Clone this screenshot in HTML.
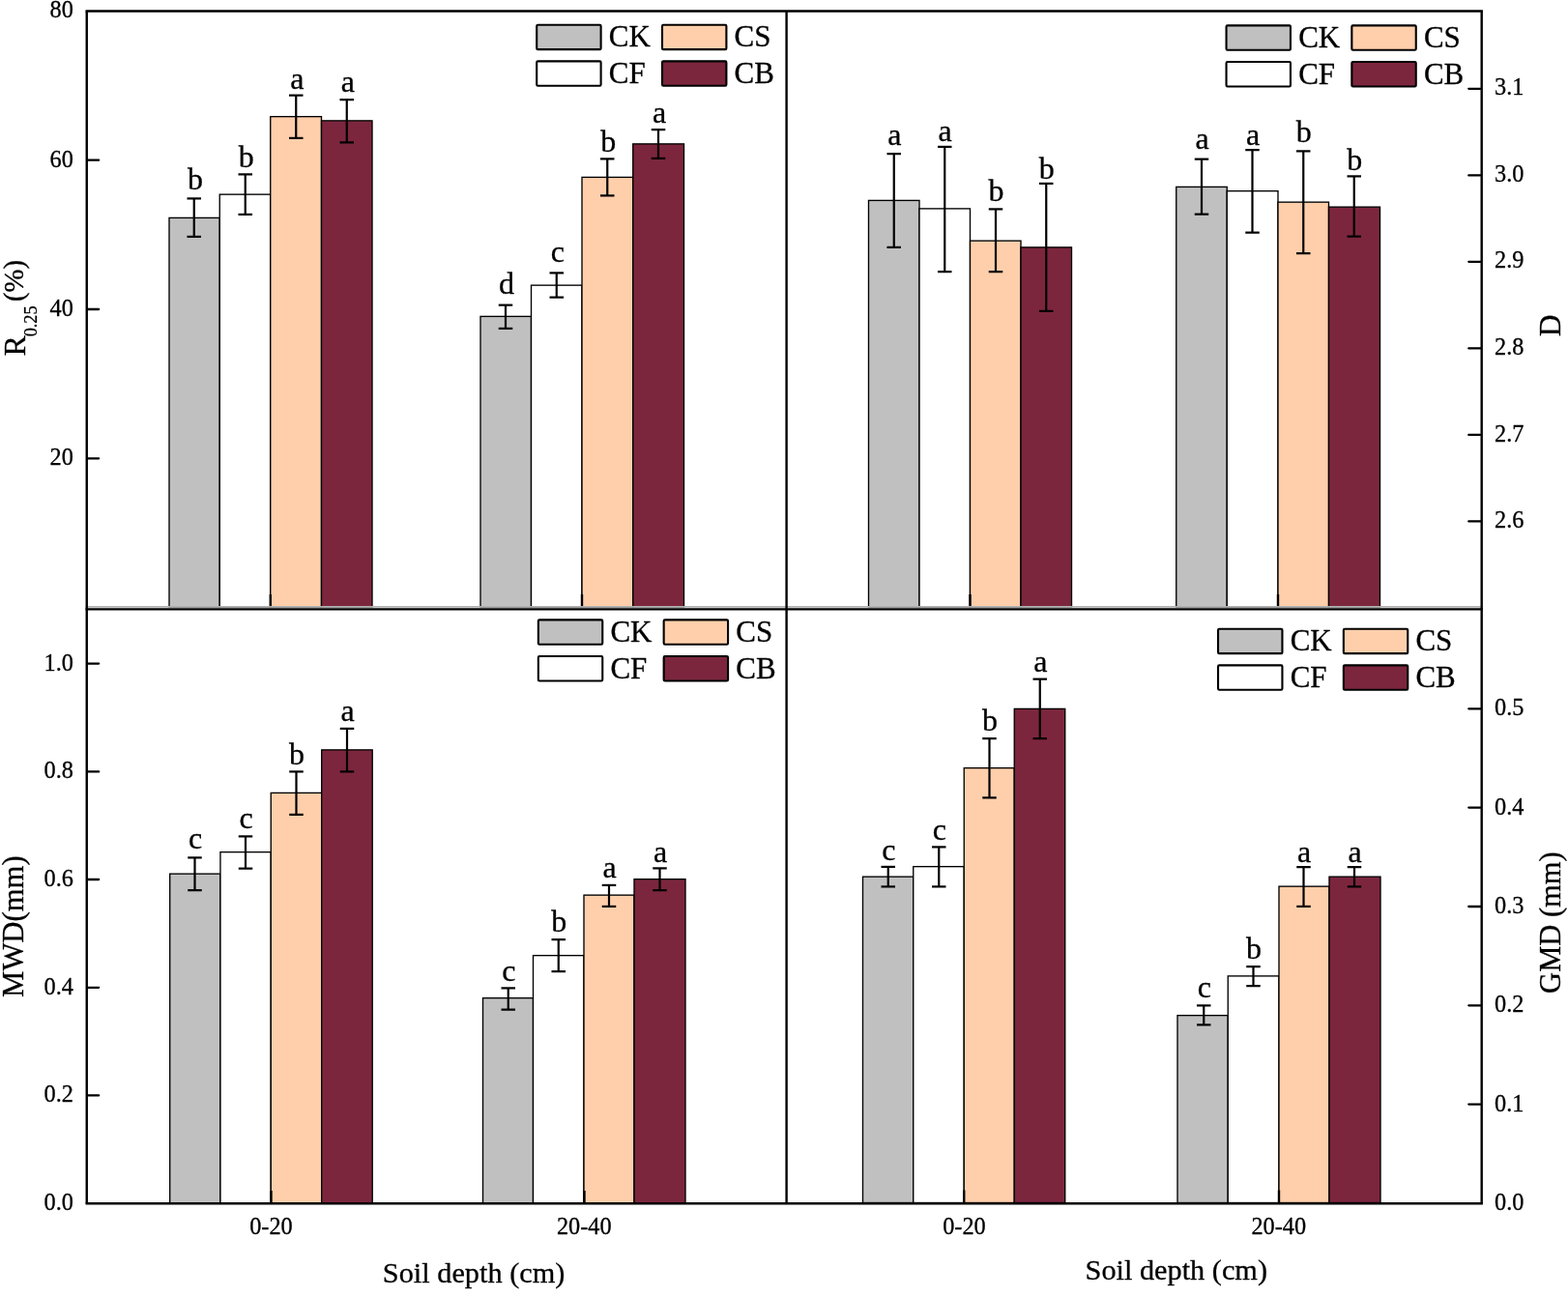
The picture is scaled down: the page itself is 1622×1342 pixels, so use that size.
<!DOCTYPE html>
<html lang="en">
<head>
<meta charset="utf-8">
<title>Soil aggregate stability by soil depth</title>
<style>
html,body{margin:0;padding:0;background:#fff;}
body{width:1622px;height:1342px;overflow:hidden;}
svg{display:block;}
svg text{font-family:"Liberation Serif", "Times New Roman", Times, serif;fill:#000;stroke:#000;stroke-width:0.3px;stroke-linejoin:round;}
</style>
</head>
<body>
<svg width="1622" height="1342" viewBox="0 0 1622 1342">
<rect x="0" y="0" width="1622" height="1342" fill="#ffffff"/>
<g id="TL">
<rect x="175" y="225.4" width="52.25" height="402.6" fill="#c0c0c0" stroke="#000" stroke-width="1.35"/>
<rect x="227.25" y="201.15" width="52.5" height="426.85" fill="#ffffff" stroke="#000" stroke-width="1.35"/>
<rect x="279.75" y="120.65" width="52.75" height="507.35" fill="#ffcfab" stroke="#000" stroke-width="1.35"/>
<rect x="332.5" y="124.9" width="52.5" height="503.1" fill="#7c263e" stroke="#000" stroke-width="1.35"/>
<rect x="497" y="327.4" width="52.5" height="300.6" fill="#c0c0c0" stroke="#000" stroke-width="1.35"/>
<rect x="549.5" y="295.15" width="52.5" height="332.85" fill="#ffffff" stroke="#000" stroke-width="1.35"/>
<rect x="602" y="183.4" width="52.75" height="444.6" fill="#ffcfab" stroke="#000" stroke-width="1.35"/>
<rect x="654.75" y="148.9" width="52.75" height="479.1" fill="#7c263e" stroke="#000" stroke-width="1.35"/>
<line x1="279.75" y1="615" x2="279.75" y2="628" stroke="#000" stroke-width="2.4" stroke-linecap="butt"/>
<line x1="602" y1="615" x2="602" y2="628" stroke="#000" stroke-width="2.4" stroke-linecap="butt"/>
<line x1="200.75" y1="205.4" x2="200.75" y2="244.9" stroke="#000" stroke-width="2.2" stroke-linecap="butt"/>
<line x1="193.5" y1="205.4" x2="208" y2="205.4" stroke="#000" stroke-width="2.2" stroke-linecap="butt"/>
<line x1="193.5" y1="244.9" x2="208" y2="244.9" stroke="#000" stroke-width="2.2" stroke-linecap="butt"/>
<line x1="253.75" y1="180.4" x2="253.75" y2="221.9" stroke="#000" stroke-width="2.2" stroke-linecap="butt"/>
<line x1="246.5" y1="180.4" x2="261" y2="180.4" stroke="#000" stroke-width="2.2" stroke-linecap="butt"/>
<line x1="246.5" y1="221.9" x2="261" y2="221.9" stroke="#000" stroke-width="2.2" stroke-linecap="butt"/>
<line x1="306.25" y1="98.65" x2="306.25" y2="142.9" stroke="#000" stroke-width="2.2" stroke-linecap="butt"/>
<line x1="299" y1="98.65" x2="313.5" y2="98.65" stroke="#000" stroke-width="2.2" stroke-linecap="butt"/>
<line x1="299" y1="142.9" x2="313.5" y2="142.9" stroke="#000" stroke-width="2.2" stroke-linecap="butt"/>
<line x1="358.75" y1="103.15" x2="358.75" y2="147.4" stroke="#000" stroke-width="2.2" stroke-linecap="butt"/>
<line x1="351.5" y1="103.15" x2="366" y2="103.15" stroke="#000" stroke-width="2.2" stroke-linecap="butt"/>
<line x1="351.5" y1="147.4" x2="366" y2="147.4" stroke="#000" stroke-width="2.2" stroke-linecap="butt"/>
<text x="202" y="195.55" font-size="32" text-anchor="middle">b</text>
<text x="254.75" y="172.55" font-size="32" text-anchor="middle">b</text>
<text x="307.25" y="91.8" font-size="32" text-anchor="middle">a</text>
<text x="359.75" y="94.8" font-size="32" text-anchor="middle">a</text>
<line x1="523" y1="315.65" x2="523" y2="339.9" stroke="#000" stroke-width="2.2" stroke-linecap="butt"/>
<line x1="515.75" y1="315.65" x2="530.25" y2="315.65" stroke="#000" stroke-width="2.2" stroke-linecap="butt"/>
<line x1="515.75" y1="339.9" x2="530.25" y2="339.9" stroke="#000" stroke-width="2.2" stroke-linecap="butt"/>
<line x1="575.75" y1="282.4" x2="575.75" y2="307.65" stroke="#000" stroke-width="2.2" stroke-linecap="butt"/>
<line x1="568.5" y1="282.4" x2="583" y2="282.4" stroke="#000" stroke-width="2.2" stroke-linecap="butt"/>
<line x1="568.5" y1="307.65" x2="583" y2="307.65" stroke="#000" stroke-width="2.2" stroke-linecap="butt"/>
<line x1="628.25" y1="164.4" x2="628.25" y2="202.4" stroke="#000" stroke-width="2.2" stroke-linecap="butt"/>
<line x1="621" y1="164.4" x2="635.5" y2="164.4" stroke="#000" stroke-width="2.2" stroke-linecap="butt"/>
<line x1="621" y1="202.4" x2="635.5" y2="202.4" stroke="#000" stroke-width="2.2" stroke-linecap="butt"/>
<line x1="681" y1="134.15" x2="681" y2="163.9" stroke="#000" stroke-width="2.2" stroke-linecap="butt"/>
<line x1="673.75" y1="134.15" x2="688.25" y2="134.15" stroke="#000" stroke-width="2.2" stroke-linecap="butt"/>
<line x1="673.75" y1="163.9" x2="688.25" y2="163.9" stroke="#000" stroke-width="2.2" stroke-linecap="butt"/>
<text x="524" y="303.8" font-size="32" text-anchor="middle">d</text>
<text x="576.75" y="270.55" font-size="32" text-anchor="middle">c</text>
<text x="629.25" y="157.3" font-size="32" text-anchor="middle">b</text>
<text x="682" y="126.8" font-size="32" text-anchor="middle">a</text>
<rect x="555.2" y="25.7" width="66.4" height="25.4" rx="1.2" fill="#c0c0c0" stroke="#000" stroke-width="2.1"/>
<text x="629.78" y="48.45" font-size="31" text-anchor="start">CK</text>
<rect x="555.2" y="63.4" width="66.4" height="25.4" rx="1.2" fill="#ffffff" stroke="#000" stroke-width="2.1"/>
<text x="629.78" y="86.15" font-size="31" text-anchor="start">CF</text>
<rect x="685" y="25.7" width="66.4" height="25.4" rx="1.2" fill="#ffcfab" stroke="#000" stroke-width="2.1"/>
<text x="759.58" y="48.45" font-size="31" text-anchor="start">CS</text>
<rect x="685" y="63.4" width="66.4" height="25.4" rx="1.2" fill="#7c263e" stroke="#000" stroke-width="2.1"/>
<text x="759.58" y="86.15" font-size="31" text-anchor="start">CB</text>
</g>
<g id="TR">
<rect x="898.5" y="207.4" width="52.5" height="420.6" fill="#c0c0c0" stroke="#000" stroke-width="1.35"/>
<rect x="951" y="215.9" width="52.5" height="412.1" fill="#ffffff" stroke="#000" stroke-width="1.35"/>
<rect x="1003.5" y="249.15" width="52.5" height="378.85" fill="#ffcfab" stroke="#000" stroke-width="1.35"/>
<rect x="1056" y="255.9" width="52.5" height="372.1" fill="#7c263e" stroke="#000" stroke-width="1.35"/>
<rect x="1216.75" y="193.4" width="52.5" height="434.6" fill="#c0c0c0" stroke="#000" stroke-width="1.35"/>
<rect x="1269.25" y="197.65" width="52.75" height="430.35" fill="#ffffff" stroke="#000" stroke-width="1.35"/>
<rect x="1322" y="209.15" width="52.5" height="418.85" fill="#ffcfab" stroke="#000" stroke-width="1.35"/>
<rect x="1374.5" y="214.15" width="53" height="413.85" fill="#7c263e" stroke="#000" stroke-width="1.35"/>
<line x1="1003.5" y1="615" x2="1003.5" y2="628" stroke="#000" stroke-width="2.4" stroke-linecap="butt"/>
<line x1="1322" y1="615" x2="1322" y2="628" stroke="#000" stroke-width="2.4" stroke-linecap="butt"/>
<line x1="924.75" y1="159.15" x2="924.75" y2="255.9" stroke="#000" stroke-width="2.2" stroke-linecap="butt"/>
<line x1="917.5" y1="159.15" x2="932" y2="159.15" stroke="#000" stroke-width="2.2" stroke-linecap="butt"/>
<line x1="917.5" y1="255.9" x2="932" y2="255.9" stroke="#000" stroke-width="2.2" stroke-linecap="butt"/>
<line x1="977.25" y1="151.9" x2="977.25" y2="281.15" stroke="#000" stroke-width="2.2" stroke-linecap="butt"/>
<line x1="970" y1="151.9" x2="984.5" y2="151.9" stroke="#000" stroke-width="2.2" stroke-linecap="butt"/>
<line x1="970" y1="281.15" x2="984.5" y2="281.15" stroke="#000" stroke-width="2.2" stroke-linecap="butt"/>
<line x1="1030" y1="216.4" x2="1030" y2="281.15" stroke="#000" stroke-width="2.2" stroke-linecap="butt"/>
<line x1="1022.75" y1="216.4" x2="1037.25" y2="216.4" stroke="#000" stroke-width="2.2" stroke-linecap="butt"/>
<line x1="1022.75" y1="281.15" x2="1037.25" y2="281.15" stroke="#000" stroke-width="2.2" stroke-linecap="butt"/>
<line x1="1082.25" y1="189.9" x2="1082.25" y2="321.9" stroke="#000" stroke-width="2.2" stroke-linecap="butt"/>
<line x1="1075" y1="189.9" x2="1089.5" y2="189.9" stroke="#000" stroke-width="2.2" stroke-linecap="butt"/>
<line x1="1075" y1="321.9" x2="1089.5" y2="321.9" stroke="#000" stroke-width="2.2" stroke-linecap="butt"/>
<text x="925.35" y="150.45" font-size="32" text-anchor="middle">a</text>
<text x="977.6" y="146.2" font-size="32" text-anchor="middle">a</text>
<text x="1030.6" y="207.95" font-size="32" text-anchor="middle">b</text>
<text x="1082.85" y="185.45" font-size="32" text-anchor="middle">b</text>
<line x1="1243" y1="164.65" x2="1243" y2="221.65" stroke="#000" stroke-width="2.2" stroke-linecap="butt"/>
<line x1="1235.75" y1="164.65" x2="1250.25" y2="164.65" stroke="#000" stroke-width="2.2" stroke-linecap="butt"/>
<line x1="1235.75" y1="221.65" x2="1250.25" y2="221.65" stroke="#000" stroke-width="2.2" stroke-linecap="butt"/>
<line x1="1295.5" y1="155.15" x2="1295.5" y2="240.65" stroke="#000" stroke-width="2.2" stroke-linecap="butt"/>
<line x1="1288.25" y1="155.15" x2="1302.75" y2="155.15" stroke="#000" stroke-width="2.2" stroke-linecap="butt"/>
<line x1="1288.25" y1="240.65" x2="1302.75" y2="240.65" stroke="#000" stroke-width="2.2" stroke-linecap="butt"/>
<line x1="1348.25" y1="156.4" x2="1348.25" y2="262.15" stroke="#000" stroke-width="2.2" stroke-linecap="butt"/>
<line x1="1341" y1="156.4" x2="1355.5" y2="156.4" stroke="#000" stroke-width="2.2" stroke-linecap="butt"/>
<line x1="1341" y1="262.15" x2="1355.5" y2="262.15" stroke="#000" stroke-width="2.2" stroke-linecap="butt"/>
<line x1="1400.75" y1="182.4" x2="1400.75" y2="244.65" stroke="#000" stroke-width="2.2" stroke-linecap="butt"/>
<line x1="1393.5" y1="182.4" x2="1408" y2="182.4" stroke="#000" stroke-width="2.2" stroke-linecap="butt"/>
<line x1="1393.5" y1="244.65" x2="1408" y2="244.65" stroke="#000" stroke-width="2.2" stroke-linecap="butt"/>
<text x="1243.6" y="153.7" font-size="32" text-anchor="middle">a</text>
<text x="1296.1" y="149.95" font-size="32" text-anchor="middle">a</text>
<text x="1348.85" y="147.45" font-size="32" text-anchor="middle">b</text>
<text x="1401.35" y="175.7" font-size="32" text-anchor="middle">b</text>
<rect x="1268.55" y="26.35" width="66.4" height="25.4" rx="1.2" fill="#c0c0c0" stroke="#000" stroke-width="2.1"/>
<text x="1343.13" y="49.1" font-size="31" text-anchor="start">CK</text>
<rect x="1268.55" y="64.05" width="66.4" height="25.4" rx="1.2" fill="#ffffff" stroke="#000" stroke-width="2.1"/>
<text x="1343.13" y="86.8" font-size="31" text-anchor="start">CF</text>
<rect x="1398.35" y="26.35" width="66.4" height="25.4" rx="1.2" fill="#ffcfab" stroke="#000" stroke-width="2.1"/>
<text x="1472.93" y="49.1" font-size="31" text-anchor="start">CS</text>
<rect x="1398.35" y="64.05" width="66.4" height="25.4" rx="1.2" fill="#7c263e" stroke="#000" stroke-width="2.1"/>
<text x="1472.93" y="86.8" font-size="31" text-anchor="start">CB</text>
</g>
<g id="BL">
<rect x="175.7" y="904.15" width="52.25" height="340.85" fill="#c0c0c0" stroke="#000" stroke-width="1.35"/>
<rect x="227.95" y="881.65" width="52.3" height="363.35" fill="#ffffff" stroke="#000" stroke-width="1.35"/>
<rect x="280.25" y="820.4" width="52.45" height="424.6" fill="#ffcfab" stroke="#000" stroke-width="1.35"/>
<rect x="332.7" y="775.9" width="52.5" height="469.1" fill="#7c263e" stroke="#000" stroke-width="1.35"/>
<rect x="499.5" y="1032.65" width="52" height="212.35" fill="#c0c0c0" stroke="#000" stroke-width="1.35"/>
<rect x="551.5" y="988.65" width="52.5" height="256.35" fill="#ffffff" stroke="#000" stroke-width="1.35"/>
<rect x="604" y="926.15" width="52" height="318.85" fill="#ffcfab" stroke="#000" stroke-width="1.35"/>
<rect x="656" y="909.65" width="53" height="335.35" fill="#7c263e" stroke="#000" stroke-width="1.35"/>
<line x1="280.5" y1="1232" x2="280.5" y2="1245" stroke="#000" stroke-width="2.4" stroke-linecap="butt"/>
<line x1="604.5" y1="1232" x2="604.5" y2="1245" stroke="#000" stroke-width="2.4" stroke-linecap="butt"/>
<line x1="201.5" y1="887.4" x2="201.5" y2="921.15" stroke="#000" stroke-width="2.2" stroke-linecap="butt"/>
<line x1="194.25" y1="887.4" x2="208.75" y2="887.4" stroke="#000" stroke-width="2.2" stroke-linecap="butt"/>
<line x1="194.25" y1="921.15" x2="208.75" y2="921.15" stroke="#000" stroke-width="2.2" stroke-linecap="butt"/>
<line x1="254" y1="865.4" x2="254" y2="898.65" stroke="#000" stroke-width="2.2" stroke-linecap="butt"/>
<line x1="246.75" y1="865.4" x2="261.25" y2="865.4" stroke="#000" stroke-width="2.2" stroke-linecap="butt"/>
<line x1="246.75" y1="898.65" x2="261.25" y2="898.65" stroke="#000" stroke-width="2.2" stroke-linecap="butt"/>
<line x1="306.5" y1="798.4" x2="306.5" y2="842.9" stroke="#000" stroke-width="2.2" stroke-linecap="butt"/>
<line x1="299.25" y1="798.4" x2="313.75" y2="798.4" stroke="#000" stroke-width="2.2" stroke-linecap="butt"/>
<line x1="299.25" y1="842.9" x2="313.75" y2="842.9" stroke="#000" stroke-width="2.2" stroke-linecap="butt"/>
<line x1="359" y1="753.9" x2="359" y2="798.4" stroke="#000" stroke-width="2.2" stroke-linecap="butt"/>
<line x1="351.75" y1="753.9" x2="366.25" y2="753.9" stroke="#000" stroke-width="2.2" stroke-linecap="butt"/>
<line x1="351.75" y1="798.4" x2="366.25" y2="798.4" stroke="#000" stroke-width="2.2" stroke-linecap="butt"/>
<text x="202.1" y="877.95" font-size="32" text-anchor="middle">c</text>
<text x="254.6" y="857.45" font-size="32" text-anchor="middle">c</text>
<text x="307.1" y="790.7" font-size="32" text-anchor="middle">b</text>
<text x="359.6" y="745.7" font-size="32" text-anchor="middle">a</text>
<line x1="525.75" y1="1022.4" x2="525.75" y2="1044.65" stroke="#000" stroke-width="2.2" stroke-linecap="butt"/>
<line x1="518.5" y1="1022.4" x2="533" y2="1022.4" stroke="#000" stroke-width="2.2" stroke-linecap="butt"/>
<line x1="518.5" y1="1044.65" x2="533" y2="1044.65" stroke="#000" stroke-width="2.2" stroke-linecap="butt"/>
<line x1="577.75" y1="972.15" x2="577.75" y2="1005.15" stroke="#000" stroke-width="2.2" stroke-linecap="butt"/>
<line x1="570.5" y1="972.15" x2="585" y2="972.15" stroke="#000" stroke-width="2.2" stroke-linecap="butt"/>
<line x1="570.5" y1="1005.15" x2="585" y2="1005.15" stroke="#000" stroke-width="2.2" stroke-linecap="butt"/>
<line x1="630" y1="915.9" x2="630" y2="937.9" stroke="#000" stroke-width="2.2" stroke-linecap="butt"/>
<line x1="622.75" y1="915.9" x2="637.25" y2="915.9" stroke="#000" stroke-width="2.2" stroke-linecap="butt"/>
<line x1="622.75" y1="937.9" x2="637.25" y2="937.9" stroke="#000" stroke-width="2.2" stroke-linecap="butt"/>
<line x1="682.5" y1="898.4" x2="682.5" y2="921.15" stroke="#000" stroke-width="2.2" stroke-linecap="butt"/>
<line x1="675.25" y1="898.4" x2="689.75" y2="898.4" stroke="#000" stroke-width="2.2" stroke-linecap="butt"/>
<line x1="675.25" y1="921.15" x2="689.75" y2="921.15" stroke="#000" stroke-width="2.2" stroke-linecap="butt"/>
<text x="526.35" y="1015.45" font-size="32" text-anchor="middle">c</text>
<text x="578.35" y="963.7" font-size="32" text-anchor="middle">b</text>
<text x="630.6" y="908.2" font-size="32" text-anchor="middle">a</text>
<text x="683.1" y="892.45" font-size="32" text-anchor="middle">a</text>
<rect x="556.85" y="641.35" width="66.4" height="25.4" rx="1.2" fill="#c0c0c0" stroke="#000" stroke-width="2.1"/>
<text x="631.43" y="664.1" font-size="31" text-anchor="start">CK</text>
<rect x="556.85" y="679.05" width="66.4" height="25.4" rx="1.2" fill="#ffffff" stroke="#000" stroke-width="2.1"/>
<text x="631.43" y="701.8" font-size="31" text-anchor="start">CF</text>
<rect x="686.65" y="641.35" width="66.4" height="25.4" rx="1.2" fill="#ffcfab" stroke="#000" stroke-width="2.1"/>
<text x="761.23" y="664.1" font-size="31" text-anchor="start">CS</text>
<rect x="686.65" y="679.05" width="66.4" height="25.4" rx="1.2" fill="#7c263e" stroke="#000" stroke-width="2.1"/>
<text x="761.23" y="701.8" font-size="31" text-anchor="start">CB</text>
</g>
<g id="BR">
<rect x="892.5" y="907.15" width="52.25" height="337.35" fill="#c0c0c0" stroke="#000" stroke-width="1.35"/>
<rect x="944.75" y="896.65" width="52.5" height="347.85" fill="#ffffff" stroke="#000" stroke-width="1.35"/>
<rect x="997.25" y="794.65" width="52" height="449.85" fill="#ffcfab" stroke="#000" stroke-width="1.35"/>
<rect x="1049.25" y="733.4" width="52.5" height="511.1" fill="#7c263e" stroke="#000" stroke-width="1.35"/>
<rect x="1218" y="1050.65" width="52.25" height="193.85" fill="#c0c0c0" stroke="#000" stroke-width="1.35"/>
<rect x="1270.25" y="1009.9" width="52.75" height="234.6" fill="#ffffff" stroke="#000" stroke-width="1.35"/>
<rect x="1323" y="917.15" width="52" height="327.35" fill="#ffcfab" stroke="#000" stroke-width="1.35"/>
<rect x="1375" y="907.15" width="53" height="337.35" fill="#7c263e" stroke="#000" stroke-width="1.35"/>
<line x1="997.25" y1="1231.5" x2="997.25" y2="1244.5" stroke="#000" stroke-width="2.4" stroke-linecap="butt"/>
<line x1="1323" y1="1231.5" x2="1323" y2="1244.5" stroke="#000" stroke-width="2.4" stroke-linecap="butt"/>
<line x1="918.75" y1="896.9" x2="918.75" y2="917.4" stroke="#000" stroke-width="2.2" stroke-linecap="butt"/>
<line x1="911.5" y1="896.9" x2="926" y2="896.9" stroke="#000" stroke-width="2.2" stroke-linecap="butt"/>
<line x1="911.5" y1="917.4" x2="926" y2="917.4" stroke="#000" stroke-width="2.2" stroke-linecap="butt"/>
<line x1="971.25" y1="876.4" x2="971.25" y2="917.4" stroke="#000" stroke-width="2.2" stroke-linecap="butt"/>
<line x1="964" y1="876.4" x2="978.5" y2="876.4" stroke="#000" stroke-width="2.2" stroke-linecap="butt"/>
<line x1="964" y1="917.4" x2="978.5" y2="917.4" stroke="#000" stroke-width="2.2" stroke-linecap="butt"/>
<line x1="1023.5" y1="764.15" x2="1023.5" y2="825.4" stroke="#000" stroke-width="2.2" stroke-linecap="butt"/>
<line x1="1016.25" y1="764.15" x2="1030.75" y2="764.15" stroke="#000" stroke-width="2.2" stroke-linecap="butt"/>
<line x1="1016.25" y1="825.4" x2="1030.75" y2="825.4" stroke="#000" stroke-width="2.2" stroke-linecap="butt"/>
<line x1="1075.75" y1="702.65" x2="1075.75" y2="764.15" stroke="#000" stroke-width="2.2" stroke-linecap="butt"/>
<line x1="1068.5" y1="702.65" x2="1083" y2="702.65" stroke="#000" stroke-width="2.2" stroke-linecap="butt"/>
<line x1="1068.5" y1="764.15" x2="1083" y2="764.15" stroke="#000" stroke-width="2.2" stroke-linecap="butt"/>
<text x="919.35" y="889.95" font-size="32" text-anchor="middle">c</text>
<text x="971.85" y="869.45" font-size="32" text-anchor="middle">c</text>
<text x="1024.1" y="756.2" font-size="32" text-anchor="middle">b</text>
<text x="1076.35" y="695.2" font-size="32" text-anchor="middle">a</text>
<line x1="1245.25" y1="1040.4" x2="1245.25" y2="1060.4" stroke="#000" stroke-width="2.2" stroke-linecap="butt"/>
<line x1="1238" y1="1040.4" x2="1252.5" y2="1040.4" stroke="#000" stroke-width="2.2" stroke-linecap="butt"/>
<line x1="1238" y1="1060.4" x2="1252.5" y2="1060.4" stroke="#000" stroke-width="2.2" stroke-linecap="butt"/>
<line x1="1296.5" y1="1000.15" x2="1296.5" y2="1020.15" stroke="#000" stroke-width="2.2" stroke-linecap="butt"/>
<line x1="1289.25" y1="1000.15" x2="1303.75" y2="1000.15" stroke="#000" stroke-width="2.2" stroke-linecap="butt"/>
<line x1="1289.25" y1="1020.15" x2="1303.75" y2="1020.15" stroke="#000" stroke-width="2.2" stroke-linecap="butt"/>
<line x1="1348.5" y1="897.15" x2="1348.5" y2="937.9" stroke="#000" stroke-width="2.2" stroke-linecap="butt"/>
<line x1="1341.25" y1="897.15" x2="1355.75" y2="897.15" stroke="#000" stroke-width="2.2" stroke-linecap="butt"/>
<line x1="1341.25" y1="937.9" x2="1355.75" y2="937.9" stroke="#000" stroke-width="2.2" stroke-linecap="butt"/>
<line x1="1401" y1="897.15" x2="1401" y2="917.4" stroke="#000" stroke-width="2.2" stroke-linecap="butt"/>
<line x1="1393.75" y1="897.15" x2="1408.25" y2="897.15" stroke="#000" stroke-width="2.2" stroke-linecap="butt"/>
<line x1="1393.75" y1="917.4" x2="1408.25" y2="917.4" stroke="#000" stroke-width="2.2" stroke-linecap="butt"/>
<text x="1245.85" y="1031.7" font-size="32" text-anchor="middle">c</text>
<text x="1297.1" y="991.7" font-size="32" text-anchor="middle">b</text>
<text x="1349.1" y="891.7" font-size="32" text-anchor="middle">a</text>
<text x="1401.6" y="891.7" font-size="32" text-anchor="middle">a</text>
<rect x="1260.05" y="650.7" width="66.4" height="25.4" rx="1.2" fill="#c0c0c0" stroke="#000" stroke-width="2.1"/>
<text x="1334.63" y="673.45" font-size="31" text-anchor="start">CK</text>
<rect x="1260.05" y="688.4" width="66.4" height="25.4" rx="1.2" fill="#ffffff" stroke="#000" stroke-width="2.1"/>
<text x="1334.63" y="711.15" font-size="31" text-anchor="start">CF</text>
<rect x="1389.85" y="650.7" width="66.4" height="25.4" rx="1.2" fill="#ffcfab" stroke="#000" stroke-width="2.1"/>
<text x="1464.43" y="673.45" font-size="31" text-anchor="start">CS</text>
<rect x="1389.85" y="688.4" width="66.4" height="25.4" rx="1.2" fill="#7c263e" stroke="#000" stroke-width="2.1"/>
<text x="1464.43" y="711.15" font-size="31" text-anchor="start">CB</text>
</g>
<g id="axes">
<line x1="88.55" y1="627.9" x2="1533.9" y2="627.9" stroke="#b0b0b0" stroke-width="1.6" stroke-linecap="butt"/>
<line x1="88.55" y1="11.55" x2="1533.9" y2="11.55" stroke="#000" stroke-width="2.4" stroke-linecap="butt"/>
<line x1="88.55" y1="630.4" x2="1533.9" y2="630.4" stroke="#000" stroke-width="2.4" stroke-linecap="butt"/>
<line x1="88.55" y1="1245.3" x2="1533.9" y2="1245.3" stroke="#000" stroke-width="2.5" stroke-linecap="butt"/>
<line x1="89.75" y1="11.55" x2="89.75" y2="1245.3" stroke="#000" stroke-width="2.4" stroke-linecap="butt"/>
<line x1="813.6" y1="11.55" x2="813.6" y2="1245.3" stroke="#000" stroke-width="2.4" stroke-linecap="butt"/>
<line x1="1532.7" y1="11.55" x2="1532.7" y2="1245.3" stroke="#000" stroke-width="2.4" stroke-linecap="butt"/>
<line x1="90.95" y1="165.7" x2="102.15" y2="165.7" stroke="#000" stroke-width="2.3" stroke-linecap="round"/>
<line x1="90.95" y1="320" x2="102.15" y2="320" stroke="#000" stroke-width="2.3" stroke-linecap="round"/>
<line x1="90.95" y1="474.3" x2="102.15" y2="474.3" stroke="#000" stroke-width="2.3" stroke-linecap="round"/>
<line x1="90.95" y1="686.6" x2="102.15" y2="686.6" stroke="#000" stroke-width="2.3" stroke-linecap="round"/>
<line x1="90.95" y1="798.4" x2="102.15" y2="798.4" stroke="#000" stroke-width="2.3" stroke-linecap="round"/>
<line x1="90.95" y1="910" x2="102.15" y2="910" stroke="#000" stroke-width="2.3" stroke-linecap="round"/>
<line x1="90.95" y1="1021.8" x2="102.15" y2="1021.8" stroke="#000" stroke-width="2.3" stroke-linecap="round"/>
<line x1="90.95" y1="1133.4" x2="102.15" y2="1133.4" stroke="#000" stroke-width="2.3" stroke-linecap="round"/>
<line x1="1519.3" y1="91.8" x2="1531.5" y2="91.8" stroke="#000" stroke-width="2.3" stroke-linecap="round"/>
<line x1="1519.3" y1="181.4" x2="1531.5" y2="181.4" stroke="#000" stroke-width="2.3" stroke-linecap="round"/>
<line x1="1519.3" y1="270.8" x2="1531.5" y2="270.8" stroke="#000" stroke-width="2.3" stroke-linecap="round"/>
<line x1="1519.3" y1="360.4" x2="1531.5" y2="360.4" stroke="#000" stroke-width="2.3" stroke-linecap="round"/>
<line x1="1519.3" y1="449.9" x2="1531.5" y2="449.9" stroke="#000" stroke-width="2.3" stroke-linecap="round"/>
<line x1="1519.3" y1="539.4" x2="1531.5" y2="539.4" stroke="#000" stroke-width="2.3" stroke-linecap="round"/>
<line x1="1519.3" y1="733.3" x2="1531.5" y2="733.3" stroke="#000" stroke-width="2.3" stroke-linecap="round"/>
<line x1="1519.3" y1="835.6" x2="1531.5" y2="835.6" stroke="#000" stroke-width="2.3" stroke-linecap="round"/>
<line x1="1519.3" y1="938" x2="1531.5" y2="938" stroke="#000" stroke-width="2.3" stroke-linecap="round"/>
<line x1="1519.3" y1="1040.3" x2="1531.5" y2="1040.3" stroke="#000" stroke-width="2.3" stroke-linecap="round"/>
<line x1="1519.3" y1="1142.6" x2="1531.5" y2="1142.6" stroke="#000" stroke-width="2.3" stroke-linecap="round"/>
</g>
<g id="labels">
<text x="75.9" y="18.2" font-size="24.3" text-anchor="end">80</text>
<text x="75.9" y="172.6" font-size="24.3" text-anchor="end">60</text>
<text x="75.9" y="326.9" font-size="24.3" text-anchor="end">40</text>
<text x="75.9" y="481.2" font-size="24.3" text-anchor="end">20</text>
<text x="75.9" y="693.5" font-size="24.3" text-anchor="end">1.0</text>
<text x="75.9" y="805.3" font-size="24.3" text-anchor="end">0.8</text>
<text x="75.9" y="916.9" font-size="24.3" text-anchor="end">0.6</text>
<text x="75.9" y="1028.7" font-size="24.3" text-anchor="end">0.4</text>
<text x="75.9" y="1140.3" font-size="24.3" text-anchor="end">0.2</text>
<text x="75.9" y="1251.9" font-size="24.3" text-anchor="end">0.0</text>
<text x="1546" y="98.4" font-size="24.3" text-anchor="start">3.1</text>
<text x="1546" y="188" font-size="24.3" text-anchor="start">3.0</text>
<text x="1546" y="277.4" font-size="24.3" text-anchor="start">2.9</text>
<text x="1546" y="367" font-size="24.3" text-anchor="start">2.8</text>
<text x="1546" y="456.5" font-size="24.3" text-anchor="start">2.7</text>
<text x="1546" y="546" font-size="24.3" text-anchor="start">2.6</text>
<text x="1546" y="740.2" font-size="24.3" text-anchor="start">0.5</text>
<text x="1546" y="842.5" font-size="24.3" text-anchor="start">0.4</text>
<text x="1546" y="944.9" font-size="24.3" text-anchor="start">0.3</text>
<text x="1546" y="1047.2" font-size="24.3" text-anchor="start">0.2</text>
<text x="1546" y="1149.5" font-size="24.3" text-anchor="start">0.1</text>
<text x="1546" y="1251.9" font-size="24.3" text-anchor="start">0.0</text>
<text x="280.5" y="1277.4" font-size="24.3" text-anchor="middle">0-20</text>
<text x="604.25" y="1277.4" font-size="24.3" text-anchor="middle">20-40</text>
<text x="997.5" y="1277.4" font-size="24.3" text-anchor="middle">0-20</text>
<text x="1322.75" y="1277.4" font-size="24.3" text-anchor="middle">20-40</text>
<text x="490.1" y="1326.9" font-size="30.3" text-anchor="middle">Soil depth (cm)</text>
<text x="1216.8" y="1324.2" font-size="30.3" text-anchor="middle">Soil depth (cm)</text>
<text transform="translate(26 368.6) rotate(-90)" font-size="32" text-anchor="start">R<tspan font-size="18.3" dy="12" dx="-1.1">0.25</tspan><tspan font-size="28.7" dy="-14.1" dx="4.3">(%)</tspan></text>
<text transform="translate(23.5 958.6) rotate(-90)" font-size="30.7" text-anchor="middle">MWD(mm)</text>
<text transform="translate(1614.3 336.8) rotate(-90)" font-size="31.6" text-anchor="middle">D</text>
<text transform="translate(1613.5 954.6) rotate(-90)" font-size="30.5" text-anchor="middle">GMD (mm)</text>
</g>
</svg>
</body>
</html>
